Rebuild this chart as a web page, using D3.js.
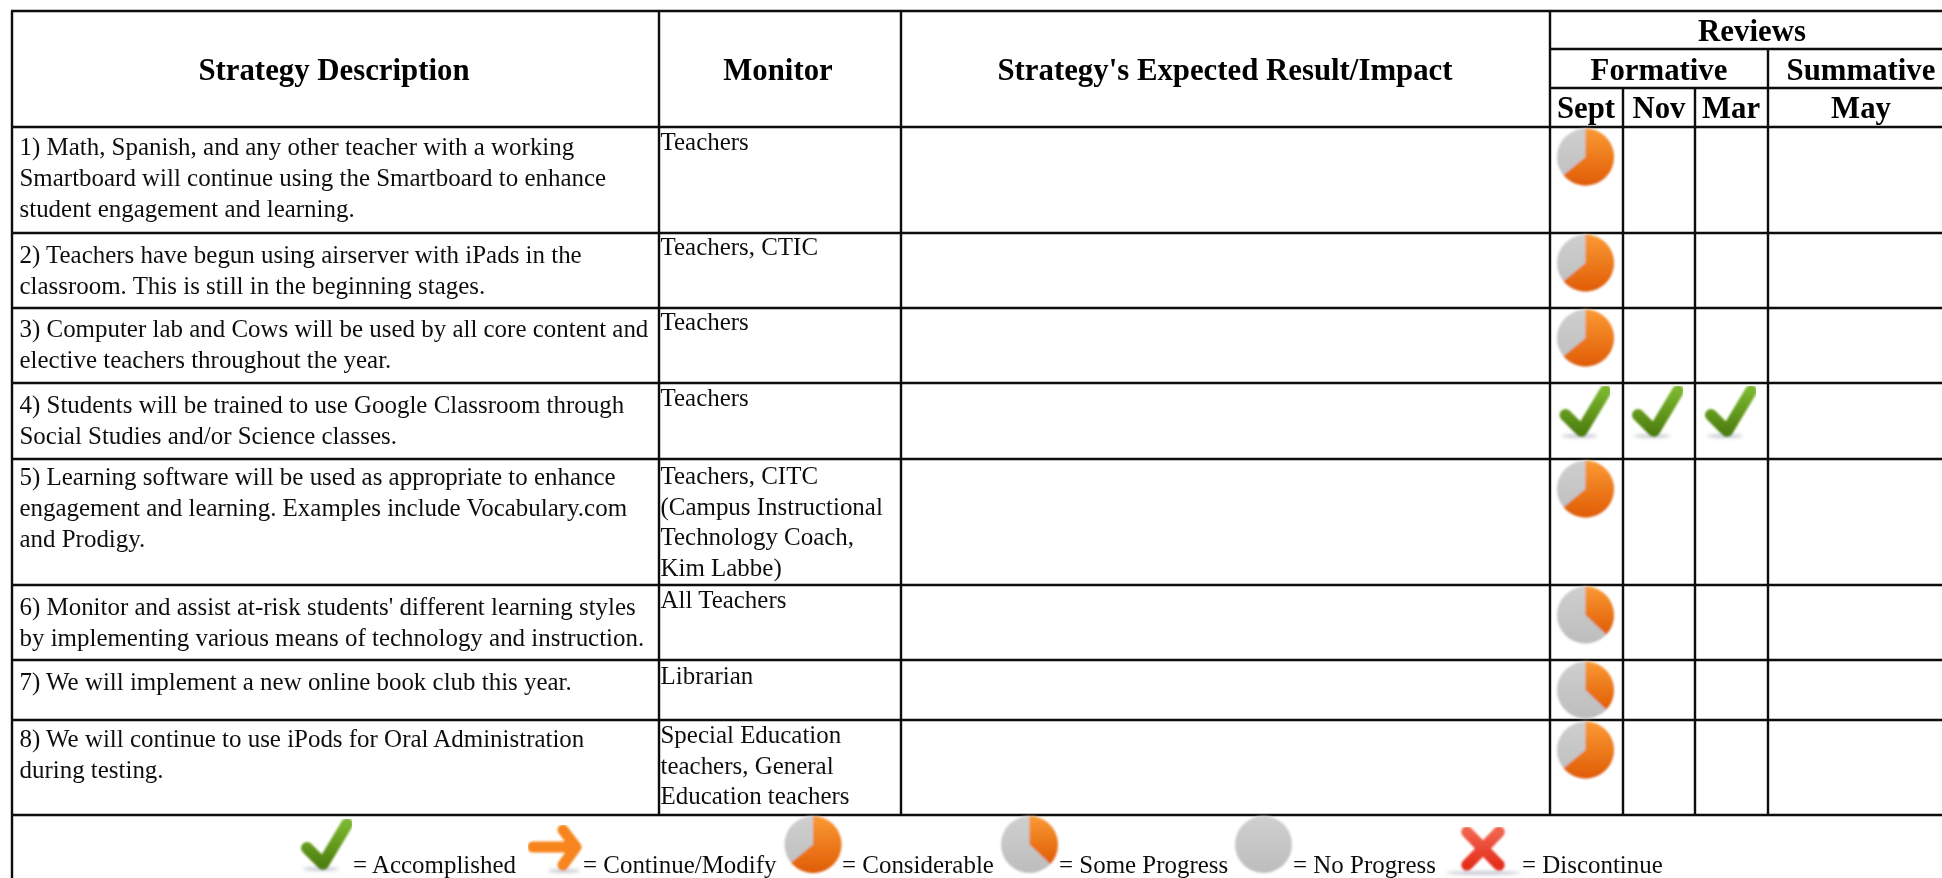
<!DOCTYPE html>
<html>
<head>
<meta charset="utf-8">
<title>Strategy reviews</title>
<script src="https://cdn.jsdelivr.net/npm/d3@7"></script>
<style>
  html, body { margin: 0; background: #fff; overflow: hidden; }
  svg { display: block; font-family: "Liberation Serif", serif; }
  .rule { stroke: #0c0c0c; stroke-width: 2.4; fill: none; }
  .body-text { font-size: 24.95px; fill: #111; }
  .head-text { font-size: 30.8px; font-weight: bold; fill: #050505; text-anchor: middle; }
  .soft { filter: url(#soften); }
  .soft-text { filter: url(#softenText); }
</style>
</head>
<body>
<svg id="chart" width="1942" height="878"></svg>
<script>
(function () {
  "use strict";

  const strategyLines = [
    ["1) Math, Spanish, and any other teacher with a working", "Smartboard will continue using the Smartboard to enhance", "student engagement and learning."],
    ["2) Teachers have begun using airserver with iPads in the", "classroom. This is still in the beginning stages."],
    ["3) Computer lab and Cows will be used by all core content and", "elective teachers throughout the year."],
    ["4) Students will be trained to use Google Classroom through", "Social Studies and/or Science classes."],
    ["5) Learning software will be used as appropriate to enhance", "engagement and learning. Examples include Vocabulary.com", "and Prodigy."],
    ["6) Monitor and assist at-risk students' different learning styles", "by implementing various means of technology and instruction."],
    ["7) We will implement a new online book club this year."],
    ["8) We will continue to use iPods for Oral Administration", "during testing."]
  ];
  const monitorLines = [
    ["Teachers"],
    ["Teachers, CTIC"],
    ["Teachers"],
    ["Teachers"],
    ["Teachers, CITC", "(Campus Instructional", "Technology Coach,", "Kim Labbe)"],
    ["All Teachers"],
    ["Librarian"],
    ["Special Education", "teachers, General", "Education teachers"]
  ];
  const septStatus = ["considerable", "considerable", "considerable", "accomplished", "considerable", "some", "some", "considerable"];
  const novStatus = [null, null, null, "accomplished", null, null, null, null];
  const marStatus = [null, null, null, "accomplished", null, null, null, null];
  const progressShare = { considerable: 0.64, some: 0.37, none: 0 };
  const legendKeys = ["accomplished", "continue", "considerable", "some", "none", "discontinue"];
  const legendLabels = ["= Accomplished", "= Continue/Modify", "= Considerable", "= Some Progress", "= No Progress", "= Discontinue"];

  const rowEdges = [127, 233, 308, 383, 459, 585, 660, 720, 815];
  const descOffset = [28, 30, 29, 30, 26, 30, 30, 27];
  const monitorOffset = [23, 22, 22, 23, 25, 23, 24, 23];
  const left = 12, right = 1942, top = 11;
  const colX = { monitor: 659, result: 901, sept: 1550, nov: 1623, mar: 1695, may: 1768 };
  const legendIconX = [327, 555, 813, 1029.5, 1263.5, 1483];
  const legendTextX = [353, 583, 842, 1059, 1293, 1522];
  const legendIconY = [846, 847, 844.5, 844.5, 844.5, 848];
  const legendBaseline = 873;

  const svg = d3.select("#chart");
  const defs = svg.append("defs");

  function addGradient(id, from, to) {
    const g = defs.append("linearGradient").attr("id", id)
      .attr("x1", 0).attr("y1", 0).attr("x2", 0).attr("y2", 1);
    g.append("stop").attr("offset", "0%").attr("stop-color", from);
    g.append("stop").attr("offset", "100%").attr("stop-color", to);
  }
  addGradient("orange", "#fb9a35", "#e05c04");
  addGradient("grey", "#cfcfcf", "#bdbdbd");
  addGradient("green", "#7ab62d", "#4f8010");
  addGradient("red", "#f0634c", "#e52e1c");

  defs.append("filter").attr("id", "soften").append("feGaussianBlur").attr("stdDeviation", 0.9);
  defs.append("filter").attr("id", "softenText").append("feGaussianBlur").attr("stdDeviation", 0.35);
  const shadowBlur = defs.append("filter").attr("id", "shadowBlur")
    .attr("x", "-20%").attr("y", "-100%").attr("width", "140%").attr("height", "300%");
  shadowBlur.append("feGaussianBlur").attr("stdDeviation", 1.4);

  // table rules
  const rules = svg.append("g").attr("class", "soft-text");
  function rule(x1, y1, x2, y2) {
    rules.append("line").attr("class", "rule")
      .attr("x1", x1).attr("y1", y1).attr("x2", x2).attr("y2", y2);
  }
  const tableBottom = rowEdges[rowEdges.length - 1];
  rule(left - 1, top, right, top);
  rule(colX.sept, 49, right, 49);
  rule(colX.sept, 88, right, 88);
  rowEdges.forEach(y => rule(left, y, right, y));
  rule(left, top, left, 878);
  rule(colX.monitor, top, colX.monitor, tableBottom);
  rule(colX.result, top, colX.result, tableBottom);
  rule(colX.sept, top, colX.sept, tableBottom);
  rule(colX.nov, 88, colX.nov, tableBottom);
  rule(colX.mar, 88, colX.mar, tableBottom);
  rule(colX.may, 49, colX.may, tableBottom);

  // headers
  const heads = svg.append("g").attr("class", "soft-text");
  const headCells = [
    { text: "Strategy Description", x: 334, y: 80 },
    { text: "Monitor", x: 778, y: 80 },
    { text: "Strategy's Expected Result/Impact", x: 1225, y: 80 },
    { text: "Reviews", x: 1752, y: 41 },
    { text: "Formative", x: 1659, y: 80 },
    { text: "Summative", x: 1861, y: 80 },
    { text: "Sept", x: 1586, y: 118 },
    { text: "Nov", x: 1659, y: 118 },
    { text: "Mar", x: 1731, y: 118 },
    { text: "May", x: 1861, y: 118 }
  ];
  heads.selectAll("text").data(headCells).join("text")
    .attr("class", "head-text")
    .attr("x", d => d.x)
    .attr("y", d => d.y)
    .text(d => d.text);

  // body text
  const bodyText = svg.append("g").attr("class", "soft-text");
  function writeLines(lines, x, firstBaseline, leading) {
    bodyText.selectAll(null).data(lines).join("text")
      .attr("class", "body-text")
      .attr("x", x)
      .attr("y", (d, i) => firstBaseline + i * leading)
      .text(d => d);
  }
  strategyLines.forEach((lines, i) => writeLines(lines, 19.5, rowEdges[i] + descOffset[i], 31));
  monitorLines.forEach((lines, i) => writeLines(lines, 660.5, rowEdges[i] + monitorOffset[i], 30.7));

  // icons
  const pie = d3.pie().sort(null).value(d => d);
  const arc = d3.arc().innerRadius(0).outerRadius(28.5);

  function drawPie(g, share) {
    g.append("circle").attr("r", 28.5).attr("fill", "url(#grey)");
    if (share > 0) {
      const slice = pie([share, 1 - share])[0];
      g.append("path").attr("d", arc(slice)).attr("fill", "url(#orange)");
    }
  }

  const strokeLine = d3.line();

  function addShadow(g, x, y, rx) {
    g.append("ellipse")
      .attr("cx", x).attr("cy", y).attr("rx", rx).attr("ry", 1.8)
      .attr("fill", "#9aa0ad").attr("opacity", 0.6)
      .attr("filter", "url(#shadowBlur)");
  }

  function drawCheck(g) {
    addShadow(g, -6, 23, 18);
    g.append("path")
      .attr("d", strokeLine([[-20, 2], [-4, 18], [20, -22]]))
      .attr("fill", "none").attr("stroke", "url(#green)")
      .attr("stroke-width", 12).attr("stroke-linecap", "round").attr("stroke-linejoin", "round");
  }

  function drawArrow(g) {
    addShadow(g, 9, 24, 16);
    g.append("path")
      .attr("d", strokeLine([[-22, 0], [19, 0]]) + strokeLine([[8, -17], [21, 0], [8, 18]]))
      .attr("fill", "none").attr("stroke", "#f7841c").attr("stroke-width", 11)
      .attr("stroke-linecap", "round").attr("stroke-linejoin", "round");
  }

  function drawCross(g) {
    addShadow(g, 0, 25, 37);
    g.append("path")
      .attr("d", strokeLine([[-16, -16], [16, 17]]) + strokeLine([[16, -16], [-16, 17]]))
      .attr("fill", "none").attr("stroke", "url(#red)").attr("stroke-width", 11.5)
      .attr("stroke-linecap", "round");
  }

  function drawIcon(key, x, y) {
    const g = svg.append("g").attr("class", "soft").attr("transform", `translate(${x},${y})`);
    if (key === "accomplished") drawCheck(g);
    else if (key === "continue") drawArrow(g);
    else if (key === "discontinue") drawCross(g);
    else drawPie(g, progressShare[key]);
  }

  function drawStatusColumn(statuses, cx) {
    statuses.forEach((status, i) => {
      if (status) drawIcon(status, cx, rowEdges[i] + 30);
    });
  }
  drawStatusColumn(septStatus, 1585.5);
  drawStatusColumn(novStatus, 1658);
  drawStatusColumn(marStatus, 1731);

  // legend
  legendKeys.forEach((key, i) => drawIcon(key, legendIconX[i], legendIconY[i]));
  bodyText.selectAll(null).data(legendLabels).join("text")
    .attr("class", "body-text")
    .attr("x", (d, i) => legendTextX[i])
    .attr("y", legendBaseline)
    .text(d => d);
})();
</script>
</body>
</html>
